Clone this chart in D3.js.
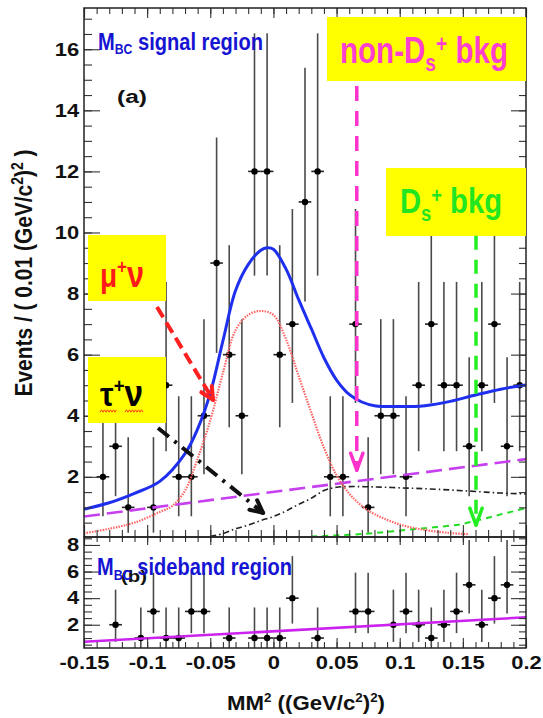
<!DOCTYPE html>
<html>
<head>
<meta charset="utf-8">
<script src="https://cdn.jsdelivr.net/npm/d3@7"></script>
<style>
  body { margin: 0; background: #fff; }
  svg { display: block; font-family: 'Liberation Sans', Arial, sans-serif; font-weight: bold; }
</style>
</head>
<body>
<svg id="chart" width="543" height="718"></svg>
<script>
// MM^2 bins (0.01 wide) and event counts
const binCenters = [-0.145, -0.135, -0.125, -0.115, -0.105, -0.095, -0.085, -0.075, -0.065, -0.055,
  -0.045, -0.035, -0.025, -0.015, -0.005, 0.005, 0.015, 0.025, 0.035, 0.045,
  0.055, 0.065, 0.075, 0.085, 0.095, 0.105, 0.115, 0.125, 0.135, 0.145,
  0.155, 0.165, 0.175, 0.185, 0.195];
const signalCounts = [0, 2, 3, 1, 0, 1, 5, 2, 2, 4, 9, 6, 4, 12, 12, 6, 7, 11, 12, 2,
  2, 7, 1, 4, 4, 2, 5, 7, 5, 5, 3, 5, 7, 3, 5];
const sidebandCounts = [0, 0, 2, 0, 1, 3, 1, 1, 3, 3, 0, 1, 0, 1, 1, 1, 4, 0, 1, 0,
  0, 3, 3, 0, 2, 3, 2, 1, 2, 3, 5, 2, 4, 5, 0];

// poisson 68% interval ends, indexed by count
const poissonLo = [0, 0.173, 0.708, 1.367, 2.086, 2.840, 3.620, 4.419, 5.232, 6.057, 6.914, 7.737, 8.588];
const poissonHi = [1.148, 3.300, 4.638, 5.918, 7.163, 8.382, 9.584, 10.77, 11.95, 13.11, 14.27, 15.39, 16.52];

// fit curves
const fitX = [-0.15, -0.13, -0.11, -0.09, -0.07, -0.06, -0.05, -0.04, -0.03, -0.02, -0.01, -0.005, 0,
  0.01, 0.02, 0.03, 0.04, 0.05, 0.06, 0.07, 0.08, 0.1, 0.12, 0.14, 0.16, 0.18, 0.2];
const totalFit = [0.94, 1.15, 1.46, 1.85, 2.76, 3.57, 4.74, 6.45, 8.1, 8.95, 9.42, 9.5, 9.45,
  8.8, 7.8, 6.85, 5.9, 5.17, 4.7, 4.45, 4.33, 4.3, 4.33, 4.47, 4.68, 4.87, 5.01];

const muX = [-0.15, -0.13, -0.11, -0.09, -0.08, -0.07, -0.06, -0.05, -0.04, -0.03, -0.02, -0.01, 0,
  0.01, 0.02, 0.03, 0.04, 0.05, 0.06, 0.07, 0.08, 0.1, 0.12, 0.14, 0.155];
const muFit = [0.15, 0.3, 0.5, 0.85, 1.05, 1.55, 2.6, 3.85, 5.4, 6.8, 7.3, 7.43, 7.3,
  6.5, 5.3, 4.1, 2.95, 2.05, 1.45, 1.05, 0.78, 0.44, 0.26, 0.16, 0.12];

const tauX = [-0.05, -0.04, -0.03, -0.02, -0.01, 0, 0.01, 0.02, 0.03, 0.04, 0.05, 0.06,
  0.08, 0.1, 0.12, 0.14, 0.16, 0.18, 0.2];
const tauFit = [0.05, 0.14, 0.3, 0.42, 0.57, 0.7, 0.88, 1.1, 1.3, 1.55, 1.66, 1.68,
  1.67, 1.64, 1.61, 1.57, 1.52, 1.47, 1.44];

const dsX = [0.03, 0.06, 0.08, 0.1, 0.12, 0.14, 0.15, 0.16, 0.17, 0.18, 0.19, 0.2];
const dsFit = [0.05, 0.1, 0.16, 0.24, 0.32, 0.4, 0.46, 0.56, 0.66, 0.77, 0.87, 0.98];

const bkgX = [-0.15, 0.2];
const nonDsFit = [0.70, 2.58];
const sidebandFit = [0.72, 2.56];

const xTickValues = [-0.15, -0.1, -0.05, 0, 0.05, 0.1, 0.15, 0.2];
const xTickLabels = ['-0.15', '-0.1', '-0.05', '0', '0.05', '0.1', '0.15', '0.2'];
const yTopTicks = [2, 4, 6, 8, 10, 12, 14, 16];
const yBotTicks = [2, 4, 6, 8];

const svg = d3.select('#chart');
const x = d3.scaleLinear().domain([-0.15, 0.2]).range([84, 526]);
const yTop = d3.scaleLinear().domain([0.03, 17.35]).range([537, 8]);
const yBot = d3.scaleLinear().domain([0.25, 8.6]).range([648, 537]);

const defs = svg.append('defs');
defs.append('clipPath').attr('id', 'clipTop').append('rect')
    .attr('x', 84).attr('y', 8).attr('width', 442).attr('height', 529);
defs.append('clipPath').attr('id', 'clipBot').append('rect')
    .attr('x', 84).attr('y', 537).attr('width', 442).attr('height', 111);

function drawData(g, y, counts) {
  let pts = binCenters.map((c, i) => ({c: c, n: counts[i]})).filter(d => d.n > 0);
  g.selectAll('.ebar').data(pts).join('line').attr('class', 'ebar')
      .attr('x1', d => x(d.c)).attr('x2', d => x(d.c))
      .attr('y1', d => y(poissonLo[d.n])).attr('y2', d => y(poissonHi[d.n]))
      .attr('stroke', '#4a4a4a').attr('stroke-width', 1.6);
  g.selectAll('.hbar').data(pts).join('line').attr('class', 'hbar')
      .attr('x1', d => x(d.c - 0.005)).attr('x2', d => x(d.c + 0.005))
      .attr('y1', d => y(d.n)).attr('y2', d => y(d.n))
      .attr('stroke', '#222').attr('stroke-width', 1.6);
  g.selectAll('circle').data(pts).join('circle')
      .attr('cx', d => x(d.c)).attr('cy', d => y(d.n)).attr('r', 3.2)
      .attr('fill', '#000');
}

function drawCurve(g, y, xs, ys, color, width, dash) {
  let line = d3.line().x(d => x(d[0])).y(d => y(d[1])).curve(d3.curveCatmullRom.alpha(0.5));
  g.append('path')
      .attr('d', line(xs.map((v, i) => [v, ys[i]])))
      .attr('fill', 'none')
      .attr('stroke', color)
      .attr('stroke-width', width)
      .attr('stroke-dasharray', dash);
}

// ---- top panel
const topPanel = svg.append('g').attr('clip-path', 'url(#clipTop)');
drawData(topPanel, yTop, signalCounts);
drawCurve(topPanel, yTop, bkgX, nonDsFit, '#c640f0', 2.6, '16,7');
drawCurve(topPanel, yTop, tauX, tauFit, '#222', 1.6, '6,3,1.5,3');
drawCurve(topPanel, yTop, dsX, dsFit, '#22dd22', 2, '6,5');
drawCurve(topPanel, yTop, muX, muFit, '#ff6464', 2.2, '1.5,1.2');
drawCurve(topPanel, yTop, fitX, totalFit, '#1f2fee', 3, null);

// ---- bottom panel
const botPanel = svg.append('g').attr('clip-path', 'url(#clipBot)');
drawData(botPanel, yBot, sidebandCounts);
drawCurve(botPanel, yBot, bkgX, sidebandFit, '#cc22ee', 2.6, null);

// ---- axes and frames
function styleAxis(g) {
  g.select('.domain').remove();
  g.selectAll('.tick line').attr('stroke', '#333').attr('stroke-width', 1.1);
  g.selectAll('.tick text').attr('fill', '#111').attr('font-size', 18)
      .attr('font-weight', 'bold').attr('font-family', "'Liberation Sans', Arial, sans-serif")
      .attr('transform', 'scale(1.22,1)');
}

let xMinor = d3.range(-0.15, 0.2001, 0.01);
let yTopMinor = d3.range(0.5, 17.3, 0.5);
let yBotMinor = d3.range(0.5, 8.6, 0.5);
let noLabel = () => '';

// x ticks
[[8, 'top', -10, -6], [537, 'bottom', -12, -7], [537, 'top', -8, -5]].forEach(a => {
  let mk = a[1] === 'top' ? d3.axisTop : d3.axisBottom;
  svg.append('g').attr('transform', `translate(0,${a[0]})`)
      .call(mk(x).tickValues(xMinor).tickSize(a[3]).tickFormat(noLabel)).call(styleAxis);
  svg.append('g').attr('transform', `translate(0,${a[0]})`)
      .call(mk(x).tickValues(xTickValues).tickSize(a[2]).tickFormat(noLabel)).call(styleAxis);
});
svg.append('g').attr('transform', 'translate(0,648)')
    .call(d3.axisBottom(x).tickValues(xMinor).tickSize(-6).tickFormat(noLabel)).call(styleAxis);
svg.append('g').attr('transform', 'translate(0,648)')
    .call(d3.axisBottom(x).tickValues(xTickValues).tickSize(-10).tickPadding(8)
      .tickFormat((d, i) => xTickLabels[i])).call(styleAxis);

// y ticks
function yTicks(y, major, minor) {
  svg.append('g').attr('transform', 'translate(84,0)')
      .call(d3.axisLeft(y).tickValues(minor).tickSize(-8).tickFormat(noLabel)).call(styleAxis);
  svg.append('g').attr('transform', 'translate(84,0)')
      .call(d3.axisLeft(y).tickValues(major).tickSize(-16).tickPadding(4).tickFormat(d3.format('d')))
      .call(styleAxis);
  svg.append('g').attr('transform', 'translate(526,0)')
      .call(d3.axisRight(y).tickValues(minor).tickSize(-7).tickFormat(noLabel)).call(styleAxis);
  svg.append('g').attr('transform', 'translate(526,0)')
      .call(d3.axisRight(y).tickValues(major).tickSize(-15).tickFormat(noLabel)).call(styleAxis);
}
yTicks(yTop, yTopTicks, yTopMinor);
yTicks(yBot, yBotTicks, yBotMinor);

svg.append('rect').attr('x', 84).attr('y', 8).attr('width', 442).attr('height', 529)
    .attr('fill', 'none').attr('stroke', '#222').attr('stroke-width', 1.5);
svg.append('rect').attr('x', 84).attr('y', 537).attr('width', 442).attr('height', 111)
    .attr('fill', 'none').attr('stroke', '#222').attr('stroke-width', 1.5);

// axis titles
function richText(g, parts, size, color, len) {
  let t = g.append('text').attr('font-size', size).attr('fill', color)
      .attr('textLength', len).attr('lengthAdjust', 'spacingAndGlyphs');
  parts.forEach(p => {
    t.append('tspan').attr('font-size', p.s || size).attr('dy', p.dy || 0).text(p.t);
  });
  return t;
}
let yTitle = svg.append('g').attr('transform', 'translate(32,273) scale(1.3,1) rotate(-90)');
richText(yTitle, [{t: 'Events / ( 0.01 (GeV/c'}, {t: '2', s: 12, dy: -7}, {t: ')', dy: 7},
    {t: '2', s: 12, dy: -7}, {t: ' )', dy: 7}], 18, '#111', 247)
    .attr('text-anchor', 'middle');

let xTitle = svg.append('g').attr('transform', 'translate(227,710)');
richText(xTitle, [{t: 'MM'}, {t: '2', s: 12, dy: -8}, {t: ' ((GeV/c', dy: 8},
    {t: '2', s: 12, dy: -8}, {t: ')', dy: 8}, {t: '2', s: 12, dy: -8}, {t: ')', dy: 8}], 20, '#111', 158);

// ---- annotations
const blue = '#1414d2';
let a1 = svg.append('g').attr('transform', 'translate(98,50)');
richText(a1, [{t: 'M'}, {t: 'BC', s: 14, dy: 4}, {t: ' signal region', dy: -4}], 23, blue, 165);
svg.append('text').attr('x', 117).attr('y', 103).attr('font-size', 18).attr('fill', '#111')
    .attr('textLength', 30).attr('lengthAdjust', 'spacingAndGlyphs').text('(a)');

svg.append('text').attr('x', 121).attr('y', 582).attr('font-size', 17).attr('fill', '#111')
    .attr('textLength', 26).attr('lengthAdjust', 'spacingAndGlyphs').text('(b)');
let a2 = svg.append('g').attr('transform', 'translate(97,575)');
richText(a2, [{t: 'M'}, {t: 'BC', s: 15, dy: 5}, {t: ' sideband region', dy: -5}], 24, blue, 195);

// yellow labels
function box(x0, y0, w, h) {
  svg.append('rect').attr('x', x0).attr('y', y0).attr('width', w).attr('height', h).attr('fill', '#ffff00');
}
box(327, 17, 199, 64);
box(386, 168, 140, 68);
box(88, 235, 78, 66);
box(88, 357, 78, 66);

let t1 = svg.append('g').attr('transform', 'translate(340,63)');
richText(t1, [{t: 'non-D'}, {t: 's', s: 24, dy: 8}, {t: '+', s: 24, dy: -19}, {t: ' bkg', dy: 11}],
    37, '#ff3fcf', 168);
let t2 = svg.append('g').attr('transform', 'translate(400,213)');
richText(t2, [{t: 'D'}, {t: 's', s: 22, dy: 8}, {t: '+', s: 22, dy: -18}, {t: ' bkg', dy: 10}],
    35, '#22e622', 102);
let t3 = svg.append('g').attr('transform', 'translate(100,287)');
richText(t3, [{t: 'μ'}, {t: '+', s: 20, dy: -13}, {t: 'ν', dy: 13, s: 36}], 33, '#ff1a1a', 44);
let t4 = svg.append('g').attr('transform', 'translate(100,406)');
richText(t4, [{t: 'τ'}, {t: '+', s: 20, dy: -13}, {t: 'ν', dy: 13, s: 36}], 33, '#000', 43);

// spell-check squiggles under the tau label
function squiggle(x0, x1, y0) {
  let pts = d3.range(x0, x1 + 0.1, 1.5).map((v, i) => [v, y0 + (i % 2 ? -1.2 : 1.2)]);
  svg.append('path').attr('d', d3.line()(pts)).attr('fill', 'none')
      .attr('stroke', '#ff3a1a').attr('stroke-width', 1);
}
squiggle(100, 117, 411);
squiggle(125, 143, 411);

// arrows
function arrow(x1, y1, x2, y2, color, width, dash, head, spread) {
  let p1 = [x(x1), yTop(y1)], p2 = [x(x2), yTop(y2)];
  svg.append('line').attr('x1', p1[0]).attr('y1', p1[1]).attr('x2', p2[0]).attr('y2', p2[1])
      .attr('stroke', color).attr('stroke-width', width).attr('stroke-dasharray', dash);
  let ang = Math.atan2(p2[1] - p1[1], p2[0] - p1[0]);
  [-spread, spread].forEach(s => {
    svg.append('line').attr('x1', p2[0]).attr('y1', p2[1])
        .attr('x2', p2[0] - head * Math.cos(ang + s)).attr('y2', p2[1] - head * Math.sin(ang + s))
        .attr('stroke', color).attr('stroke-width', width).attr('stroke-linecap', 'round');
  });
}
arrow(-0.0922, 7.56, -0.0478, 4.52, '#ff2020', 4, '12,6', 14, 0.45);
arrow(-0.0914, 3.6, -0.0082, 0.82, '#111', 4, '14,7,3,7', 14, 0.45);
arrow(0.066, 14.8, 0.066, 2.22, '#ff33cc', 3.5, '15,10', 18, 0.35);
arrow(0.1604, 9.89, 0.1604, 0.42, '#22ee22', 3.5, '14,10', 18, 0.35);
</script>
</body>
</html>
